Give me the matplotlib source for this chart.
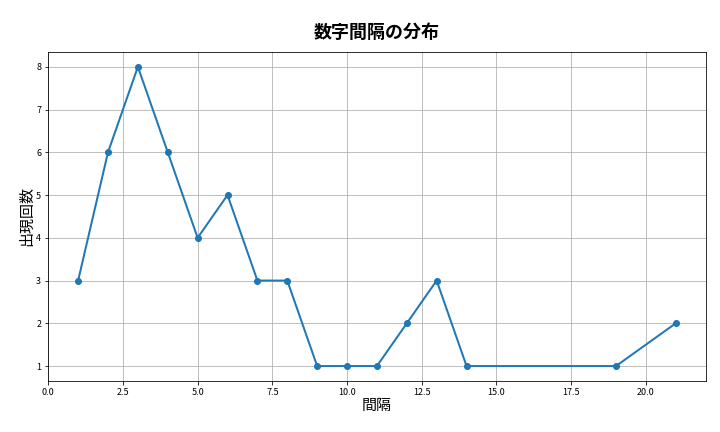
import matplotlib
matplotlib.use("Agg")
import matplotlib.pyplot as plt

plt.rcParams['font.family'] = ['Noto Sans CJK JP', 'DejaVu Sans']

intervals = [1, 2, 3, 4, 5, 6, 7, 8, 9, 10, 11, 12, 13, 14, 19, 21]
counts = [3, 6, 8, 6, 4, 5, 3, 3, 1, 1, 1, 2, 3, 1, 1, 2]

fig, ax = plt.subplots(figsize=(10, 6), dpi=72)
fig.subplots_adjust(left=0.067, right=0.98, top=0.88, bottom=0.118)
ax.plot(intervals, counts, marker='o', linewidth=2, markersize=6, color='#1f77b4')
ax.set_title('数字間隔の分布', fontsize=18, fontweight='bold', pad=14)
ax.set_xlabel('間隔', fontsize=15, labelpad=2)
ax.set_ylabel('出現回数', fontsize=15, labelpad=2)
ax.set_xlim(0, 22)
ax.grid(True)
ax.tick_params(labelsize=9)
fig.savefig('out.png')
